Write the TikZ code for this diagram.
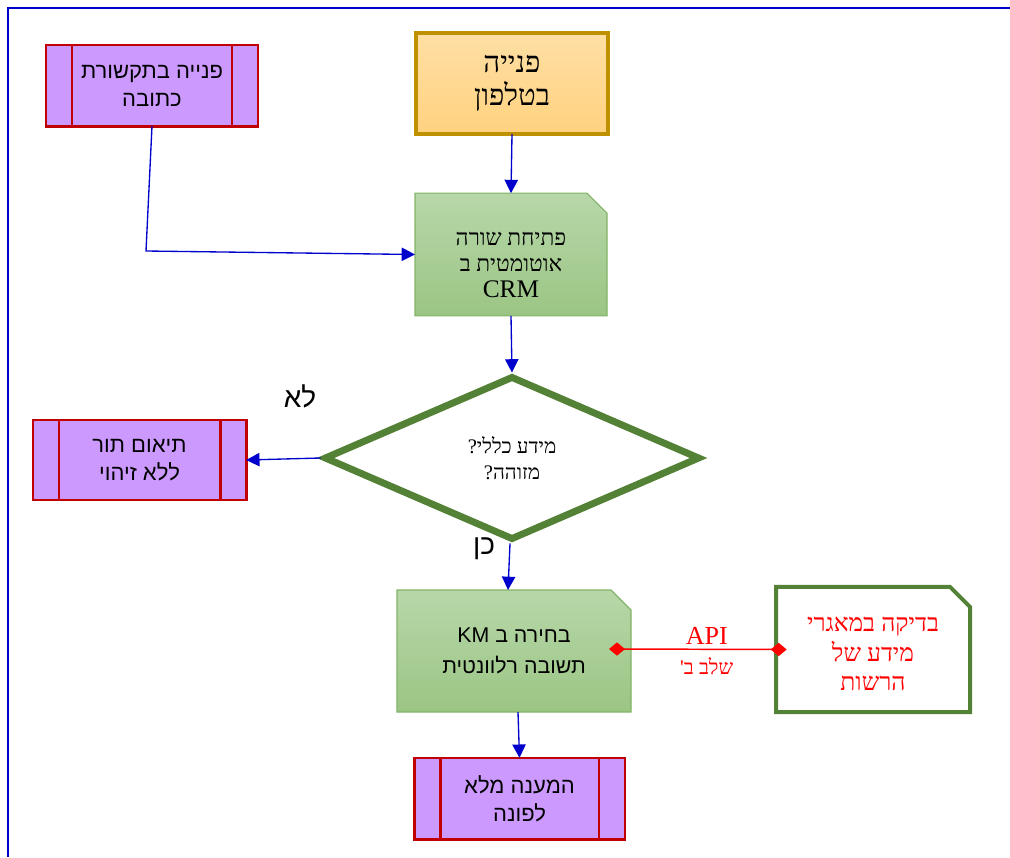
\documentclass[tikz,border=0pt]{standalone}
\usepackage{fontspec}
\usepackage{xcolor}
\usepackage{tikz}
\usetikzlibrary{positioning,arrows.meta,shapes.geometric,backgrounds}
\TeXXeTstate=1
\newfontfamily\hebsans[Script=Hebrew]{Liberation Sans}
\newfontfamily\hebserif[Script=Hebrew]{Liberation Serif}
\newcommand{\rl}[1]{\beginR #1\endR}
\definecolor{framebl}{HTML}{0000CC}
\definecolor{procred}{HTML}{C00000}
\definecolor{procfill}{HTML}{CC99FF}
\definecolor{phoneedge}{HTML}{BF9000}
\definecolor{phonetop}{HTML}{FFDFA4}
\definecolor{phonebot}{HTML}{FFD27F}
\definecolor{doctop}{HTML}{B7D7A9}
\definecolor{docbot}{HTML}{9BC584}
\definecolor{docedge}{HTML}{82B366}
\definecolor{decgreen}{HTML}{538135}
\definecolor{apired}{HTML}{FF0000}

\begin{document}
\begin{tikzpicture}[x=0.75pt,y=-0.75pt,
  proc/.style={draw=procred, fill=procfill, line width=2pt, inner sep=0pt, outer sep=0pt,
               minimum width=159pt, minimum height=61pt, align=center,
               font=\hebsans\fontsize{16.5}{21}\selectfont,
               path picture={\draw[procred, line width=2pt]
                 ([xshift=19.5pt]path picture bounding box.north west) -- ([xshift=19.5pt]path picture bounding box.south west)
                 ([xshift=-19.5pt]path picture bounding box.north east) -- ([xshift=-19.5pt]path picture bounding box.south east);}},
  docbox/.style={inner sep=0pt, outer sep=0pt, align=center},
  docshade/.style={top color=doctop, bottom color=docbot, draw=docedge, line width=0.8pt},
  arr/.style={-{Triangle[length=10pt,width=10pt]}, draw=framebl, line width=1pt},
  api/.style={{Diamond[length=12pt,width=10pt]}-{Diamond[length=12pt,width=10pt]}, draw=apired, line width=1.1pt}]
\useasboundingbox (0,0) rectangle (1010,857);
\draw[framebl, line width=2.2pt] (8,857) -- (8,8) -- (1010,8);

% top row
\node[proc] (wr) at (152,85.5) {\rl{פנייה בתקשורת}\\\rl{כתובה}};
\node[draw=phoneedge, line width=3pt, top color=phonetop, bottom color=phonebot,
      inner sep=0pt, outer sep=0pt, minimum width=144pt, minimum height=76pt, align=center,
      font=\hebserif\fontsize{22}{25}\selectfont] (phone) at (512,83.5) {\rl{פנייה}\\\rl{בטלפון}};
\node[docbox, minimum width=144pt, minimum height=92pt] (crm) at (511,254.5) {};
\node[docbox, font=\hebserif\fontsize{17}{19.5}\selectfont] (crmtxt) at ([yshift=-8pt]crm.center)
      {\rl{פתיחת שורה}\\\rl{אוטומטית ב}\\\fontsize{19}{22}\selectfont CRM};

% decision
\node[draw=decgreen, line width=5.2pt, diamond, fill=white, inner sep=0pt,
      minimum width=282pt, minimum height=123pt, align=center,
      font=\hebserif\fontsize{15.5}{19}\selectfont] (dec) at (512,458) {\rl{מידע כללי?}\\\rl{מזוהה?}};
\node[font=\hebsans\fontsize{21}{24}\selectfont] (no) at (300,396) {\rl{לא}};
\node[font=\hebsans\fontsize{21}{24}\selectfont] (yes) at (484,549) {\rl{כן}};
\node[proc, minimum width=160pt, minimum height=60pt] (appt) at (139.5,460) {\rl{תיאום תור}\\\rl{ללא זיהוי}};

% KM and authority check
\node[docbox, minimum width=175.5pt, minimum height=91.5pt, font=\hebsans\fontsize{16}{23}\selectfont]
      (km) at (514,651) {\rl{בחירה ב KM}\\\rl{תשובה רלוונטית}};
\node[docbox, minimum width=145.5pt, minimum height=94pt] (auth) at (873,649.5) {};
\node[docbox, text=apired, font=\hebserif\fontsize{18.5}{22}\selectfont] (authtxt) at ([yshift=-3.5pt]auth.center)
      {\rl{בדיקה במאגרי}\\\rl{מידע של}\\\rl{הרשות}};
\node[proc, minimum width=158pt, minimum height=61pt] (ans) at (519.5,798.5) {\rl{המענה מלא}\\\rl{לפונה}};

\begin{scope}[on background layer]
  \shadedraw[docshade] (crm.south west) -- (crm.north west) -- ([xshift=-15pt]crm.north east)
    -- ([yshift=-15pt]crm.north east) -- (crm.south east) -- cycle;
  \shadedraw[docshade] (km.south west) -- (km.north west) -- ([xshift=-15pt]km.north east)
    -- ([yshift=-15pt]km.north east) -- (km.south east) -- cycle;
  \filldraw[draw=decgreen, fill=white, line width=3pt] (auth.south west) -- (auth.north west)
    -- ([xshift=-15pt]auth.north east) -- ([yshift=-15pt]auth.north east) -- (auth.south east) -- cycle;
\end{scope}

% connectors
\coordinate (bend) at (146,251);
\draw[arr] (wr.south) -- (bend) -- (crm.west);
\draw[arr] (phone.south) -- (crm.north);
\draw[arr] (crm.south) -- (dec.north);
\draw[arr] (dec.west) -- (appt.east);
\draw[arr] ([xshift=-1.5pt]dec.south) -- ([xshift=-4.5pt]km.north);
\draw[arr] ([xshift=3pt]km.south) -- (ans.north);
\draw[api] ([xshift=-16.5pt,yshift=1.5pt]km.east) -- node[pos=0.55, above=0pt, text=apired, font=\hebserif\fontsize{19.5}{22}\selectfont] (apilbl) {API}
  node[pos=0.55, below=2pt, text=apired, font=\hebserif\fontsize{15.5}{18}\selectfont] (steplbl) {\rl{שלב ב'}} ([xshift=8pt]auth.west);
\end{tikzpicture}
\end{document}
